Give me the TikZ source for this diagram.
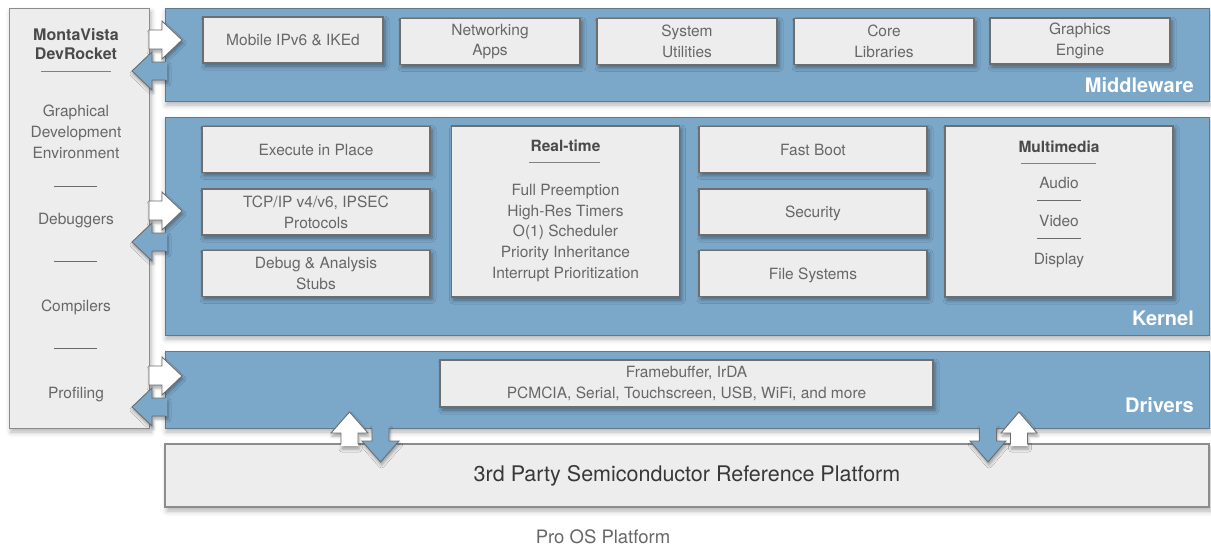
\documentclass[tikz,border=0pt]{standalone}
\usepackage{fontspec}
\setmainfont{TeX Gyre Heros}
\usetikzlibrary{shadows.blur}

\definecolor{bandblue}{HTML}{7BA7C9}
\definecolor{bandedge}{HTML}{62798C}
\definecolor{boxgray}{HTML}{EDEDED}
\definecolor{boxedge}{HTML}{6E6E6E}
\definecolor{paneledge}{HTML}{8C8C8C}
\definecolor{txtgray}{HTML}{676767}
\definecolor{headgray}{HTML}{4A4A4A}
\definecolor{rulegray}{HTML}{6A6A6A}

\newcommand{\bodysize}{\fontsize{15.5}{20.8}\selectfont}
\newcommand{\headsize}{\fontsize{15.5}{19}\selectfont\bfseries}

\tikzset{
  band/.style={draw=bandedge, fill=bandblue, line width=1pt,
    blur shadow={shadow xshift=1pt, shadow yshift=-4pt, shadow blur radius=5pt, shadow opacity=30}},
  panel/.style={draw=paneledge, fill=boxgray, line width=1pt,
    blur shadow={shadow xshift=2pt, shadow yshift=-4pt, shadow blur radius=5pt, shadow opacity=30}},
  box/.style={draw=boxedge, fill=boxgray, line width=1.2pt, inner sep=0pt,
    text=txtgray, align=center, font=\bodysize,
    blur shadow={shadow xshift=2pt, shadow yshift=-3pt, shadow blur radius=4pt, shadow opacity=40}},
  midbox/.style={box, minimum width=180pt, minimum height=46pt},
  kbox/.style={box, minimum width=228pt, minimum height=46pt},
  tallbox/.style={box, minimum width=228pt, minimum height=171pt},
  txt/.style={text=txtgray, align=center, font=\bodysize, inner sep=0pt},
  head/.style={text=headgray, align=center, font=\headsize, inner sep=0pt},
  layer/.style={anchor=east, text=white, inner sep=0pt, font=\fontsize{20}{24}\selectfont\bfseries},
  rule/.style={draw=rulegray, line width=1pt},
  inarrow/.style={fill=white, draw=boxedge, line width=0.9pt,
    blur shadow={shadow xshift=1pt, shadow yshift=-3pt, shadow blur radius=3pt, shadow opacity=35}},
  outarrow/.style={fill=bandblue,
    blur shadow={shadow xshift=1pt, shadow yshift=-3pt, shadow blur radius=3pt, shadow opacity=35}},
  arrowedge/.style={draw=boxedge, line width=0.9pt}
}

\begin{document}
\begin{tikzpicture}[x=1pt,y=-1pt]
    \useasboundingbox (0,0) rectangle (1211,546);
    % tools panel and layers
    \node[panel, minimum width=140pt, minimum height=420pt] (tools) at (79,218) {};
    \node[band, minimum width=1044pt, minimum height=93pt] (mid) at (687,54.5) {};
    \node[band, minimum width=1044pt, minimum height=218pt] (ker) at (687,226) {};
    \node[band, minimum width=1044pt, minimum height=77pt] (drv) at (687,389.5) {};
    \node[panel, draw=paneledge, line width=1.4pt, minimum width=1044pt, minimum height=63pt,
      text=black!78, font=\fontsize{21.5}{24}\selectfont] (plat) at (687,475.5)
      {3rd Party Semiconductor Reference Platform};
    \node[layer] (midlbl) at (1194,85) {Middleware};
    \node[layer] (kerlbl) at (1194,318) {Kernel};
    \node[layer] (drvlbl) at (1194,405) {Drivers};

    % tools text
    \node[head, font=\fontsize{16}{19}\selectfont\bfseries] (devr) at (76,44.5) {MontaVista\\DevRocket};
    \draw[rule, draw=gray] (41,71) -- (111,71);
    \node[txt] (gde) at (76,132) {Graphical\\Development\\Environment};
    \draw[rule] (54,186) -- (97,186);
    \node[txt] (dbgs) at (76,220.5) {Debuggers};
    \draw[rule] (54,261) -- (97,261);
    \node[txt] (comp) at (76,307) {Compilers};
    \draw[rule] (54,348) -- (97,348);
    \node[txt] (prof) at (76,394.5) {Profiling};

    % middleware
    \node[midbox] (mip) at (293,40) {Mobile IPv6 \& IKEd};
    \node[midbox] (net) at (490,41.5) {Networking\\Apps};
    \node[midbox] (sys) at (687,41.5) {System\\Utilities};
    \node[midbox] (core) at (884,41.5) {Core\\Libraries};
    \node[midbox] (gfx) at (1080,41) {Graphics\\Engine};

    % kernel
    \node[kbox] (xip) at (316,149.5) {Execute in Place};
    \node[kbox] (tcp) at (316,212) {TCP/IP v4/v6, IPSEC\\Protocols};
    \node[kbox] (dbg) at (316,273.5) {Debug \& Analysis\\Stubs};
    \node[tallbox] (rt) at (565.5,211.5) {};
    \node[head] (rthead) at (565.5,146) {Real-time};
    \draw[rule, draw=gray] (529,162) -- (600,162);
    \node[txt] (rtlist) at (565.5,233) {Full Preemption\\High-Res Timers\\O(1) Scheduler\\Priority Inheritance\\Interrupt Prioritization};
    \node[kbox] (fboot) at (813,149.5) {Fast Boot};
    \node[kbox, text depth=0pt] (sec) at (813,212) {Security};
    \node[kbox, text depth=0pt] (fsys) at (813,273.5) {File Systems};
    \node[tallbox] (mm) at (1059,211.5) {};
    \node[head] (mmhead) at (1059,147) {Multimedia};
    \draw[rule, draw=gray] (1021,163) -- (1096,163);
    \node[txt] (audio) at (1059,183) {Audio};
    \draw[rule] (1037,200) -- (1081,200);
    \node[txt] (video) at (1059,221) {Video};
    \draw[rule] (1037,238) -- (1081,238);
    \node[txt] (disp) at (1059,261) {Display};

    % drivers
    \node[box, minimum width=493pt, minimum height=47pt] (drvbox) at (686.5,383.5)
      {Framebuffer, IrDA\\PCMCIA, Serial, Touchscreen, USB, WiFi, and more};

    % arrows tools <-> layers
    \draw[inarrow] (149,30) -- (162,30) -- (162,21) -- (182,40) -- (162,59) -- (162,49) -- (149,49) -- cycle;
    \fill[outarrow] (167,62) -- (152,62) -- (152,52) -- (132,71) -- (152,90) -- (152,80) -- (167,80) -- cycle;
    \draw[arrowedge] (165,62) -- (152,62) -- (152,52) -- (132,71) -- (152,90) -- (152,80) -- (165,80);
    \draw[inarrow] (149,201) -- (162,201) -- (162,192) -- (182,211) -- (162,230) -- (162,220) -- (149,220) -- cycle;
    \fill[outarrow] (167,233) -- (152,233) -- (152,223) -- (132,242) -- (152,261) -- (152,251) -- (167,251) -- cycle;
    \draw[arrowedge] (165,233) -- (152,233) -- (152,223) -- (132,242) -- (152,261) -- (152,251) -- (165,251);
    \draw[inarrow] (149,366) -- (162,366) -- (162,357) -- (182,376) -- (162,395) -- (162,385) -- (149,385) -- cycle;
    \fill[outarrow] (167,398) -- (152,398) -- (152,388) -- (132,407) -- (152,426) -- (152,416) -- (167,416) -- cycle;
    \draw[arrowedge] (165,398) -- (152,398) -- (152,388) -- (132,407) -- (152,426) -- (152,416) -- (165,416);

    % arrows drivers <-> platform
    \fill[inarrow, draw=none] (341,446) -- (341,433) -- (331,433) -- (349.5,412) -- (368,433) -- (358,433) -- (358,446) -- cycle;
    \draw[arrowedge] (341,444) -- (341,433) -- (331,433) -- (349.5,412) -- (368,433) -- (358,433) -- (358,444);
    \fill[outarrow] (372,426) -- (372,441) -- (362,441) -- (380.5,462) -- (399,441) -- (389,441) -- (389,426) -- cycle;
    \draw[arrowedge] (372,428) -- (372,441) -- (362,441) -- (380.5,462) -- (399,441) -- (389,441) -- (389,428);
    \fill[outarrow] (979.5,426) -- (979.5,441) -- (970,441) -- (988,462) -- (1006,441) -- (996.5,441) -- (996.5,426) -- cycle;
    \draw[arrowedge] (979.5,428) -- (979.5,441) -- (970,441) -- (988,462) -- (1006,441) -- (996.5,441) -- (996.5,428);
    \fill[inarrow, draw=none] (1010.5,446) -- (1010.5,433) -- (1001,433) -- (1019,412) -- (1037,433) -- (1027.5,433) -- (1027.5,446) -- cycle;
    \draw[arrowedge] (1010.5,444) -- (1010.5,433) -- (1001,433) -- (1019,412) -- (1037,433) -- (1027.5,433) -- (1027.5,444);

    \node[txt, font=\fontsize{18.5}{22}\selectfont] (caption) at (603,537) {Pro OS Platform};
\end{tikzpicture}
\end{document}
